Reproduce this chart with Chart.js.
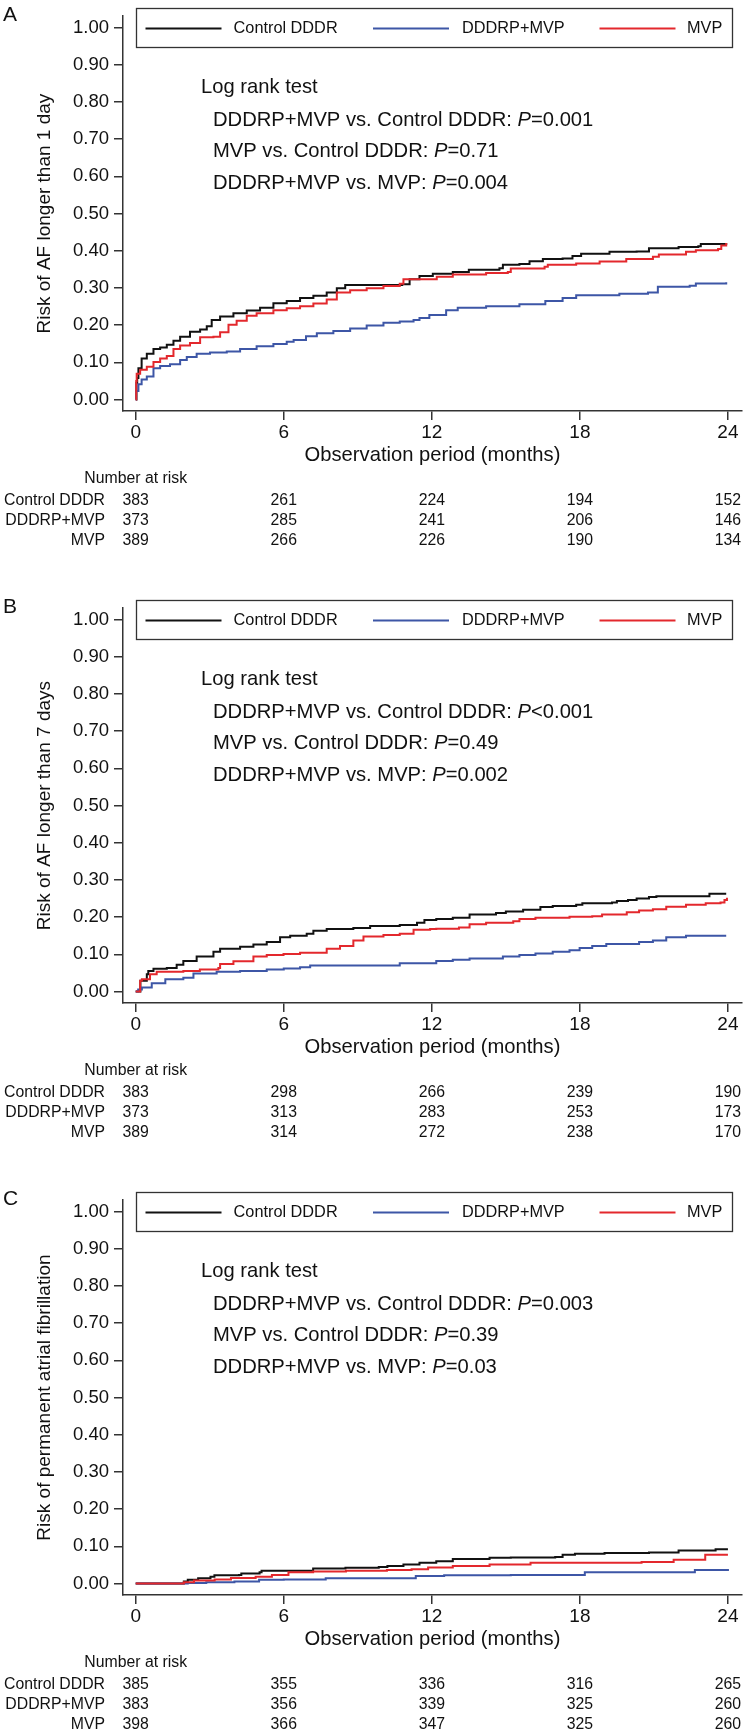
<!DOCTYPE html>
<html>
<head>
<meta charset="utf-8">
<script src="https://cdn.jsdelivr.net/npm/chart.js@4.4.1/dist/chart.umd.min.js"></script>
<style>
html,body{margin:0;padding:0;background:#fff;overflow:hidden;}
body{width:743px;height:1731px;}
.panel{position:relative;width:743px;height:592px;overflow:hidden;}
.panel.last{height:547px;}
canvas{display:block;}
</style>
</head>
<body>
<div class="panel"><canvas id="cA" width="743" height="592"></canvas></div>
<div class="panel"><canvas id="cB" width="743" height="592"></canvas></div>
<div class="panel last"><canvas id="cC" width="743" height="592"></canvas></div>
<script>
// ---------------- DATA ----------------
const groups = ['Control DDDR', 'DDDRP+MVP', 'MVP'];
const panelLetters = ['A', 'B', 'C'];
const xTicks = [0, 6, 12, 18, 24];
const yTicks = [0, 0.1, 0.2, 0.3, 0.4, 0.5, 0.6, 0.7, 0.8, 0.9, 1.0];
const xTitle = 'Observation period (months)';
const yTitles = ['Risk of AF longer than 1 day', 'Risk of AF longer than 7 days', 'Risk of permanent atrial fibrillation'];
const testTitle = 'Log rank test';
const comparisons = ['DDDRP+MVP vs. Control DDDR', 'MVP vs. Control DDDR', 'DDDRP+MVP vs. MVP'];
const pA = ['=0.001', '=0.71', '=0.004'];
const pB = ['<0.001', '=0.49', '=0.002'];
const pC = ['=0.003', '=0.39', '=0.03'];
const riskTitle = 'Number at risk';
const riskA_control = [383, 261, 224, 194, 152];
const riskA_dddrp   = [373, 285, 241, 206, 146];
const riskA_mvp     = [389, 266, 226, 190, 134];
const riskB_control = [383, 298, 266, 239, 190];
const riskB_dddrp   = [373, 313, 283, 253, 173];
const riskB_mvp     = [389, 314, 272, 238, 170];
const riskC_control = [385, 355, 336, 316, 265];
const riskC_dddrp   = [383, 356, 339, 325, 260];
const riskC_mvp     = [398, 366, 347, 325, 260];

// cumulative risk curves: [month, risk]
const A_control = [[0,0],[0.03,0.045],[0.06,0.058],[0.11,0.084],[0.24,0.110],[0.45,0.123],[0.72,0.136],[0.99,0.140],[1.26,0.147],[1.53,0.158],[1.80,0.169],[2.20,0.182],[2.61,0.188],[2.88,0.197],[3.08,0.214],[3.42,0.223],[3.96,0.232],[4.50,0.239],[5.04,0.247],[5.58,0.259],[6.12,0.265],[6.66,0.273],[7.20,0.279],[7.74,0.288],[8.15,0.299],[8.49,0.308],[10.8,0.310],[11.1,0.323],[11.5,0.332],[12.04,0.338],[12.85,0.343],[13.5,0.349],[14.74,0.353],[14.88,0.362],[15.55,0.364],[15.96,0.372],[16.5,0.378],[17.3,0.379],[17.7,0.386],[18.05,0.392],[19.2,0.397],[20.3,0.398],[20.8,0.407],[22.0,0.410],[22.8,0.412],[22.9,0.418],[23.93,0.421]];
const A_dddrp = [[0,0],[0.02,0.023],[0.11,0.041],[0.24,0.054],[0.45,0.062],[0.72,0.084],[0.99,0.090],[1.39,0.095],[1.80,0.106],[2.07,0.114],[2.47,0.123],[3.01,0.126],[3.69,0.129],[4.23,0.136],[4.90,0.143],[5.58,0.149],[6.12,0.155],[6.4,0.160],[6.9,0.170],[7.34,0.178],[8.01,0.184],[8.69,0.191],[9.36,0.199],[10.04,0.206],[10.7,0.210],[11.26,0.214],[11.5,0.219],[11.9,0.227],[12.58,0.240],[13.05,0.247],[14.2,0.251],[15.55,0.256],[16.6,0.265],[17.3,0.273],[17.85,0.280],[19.6,0.284],[20.76,0.288],[21.16,0.303],[22.45,0.306],[22.7,0.312],[23.93,0.315]];
const A_mvp = [[0,0],[0.02,0.05],[0.04,0.069],[0.18,0.080],[0.45,0.088],[0.72,0.101],[0.99,0.110],[1.26,0.117],[1.53,0.136],[1.80,0.145],[2.20,0.152],[2.61,0.167],[3.15,0.169],[3.42,0.181],[3.76,0.201],[4.09,0.212],[4.50,0.225],[4.90,0.232],[5.58,0.240],[6.12,0.245],[6.66,0.251],[7.20,0.258],[7.74,0.269],[8.15,0.288],[8.69,0.294],[9.36,0.299],[10.04,0.305],[10.7,0.311],[10.85,0.323],[12.2,0.330],[12.85,0.336],[14.2,0.340],[15.08,0.343],[15.2,0.352],[16.57,0.357],[16.7,0.362],[17.85,0.366],[18.8,0.371],[19.88,0.378],[20.96,0.384],[21.2,0.390],[22.3,0.397],[22.7,0.401],[23.6,0.405],[23.73,0.414],[23.93,0.421]];

const B_control = [[0,0],[0.19,0.029],[0.45,0.046],[0.51,0.055],[0.72,0.061],[1.26,0.063],[1.66,0.072],[1.93,0.082],[2.47,0.094],[3.15,0.107],[3.42,0.115],[4.23,0.120],[4.77,0.126],[5.31,0.133],[5.85,0.146],[6.26,0.150],[6.93,0.155],[7.2,0.163],[7.74,0.168],[8.82,0.171],[9.5,0.176],[10.7,0.179],[11.4,0.185],[11.7,0.192],[12.18,0.195],[12.85,0.198],[13.53,0.207],[14.6,0.211],[15.0,0.215],[15.7,0.220],[16.4,0.227],[16.9,0.230],[17.85,0.233],[18.1,0.237],[19.3,0.239],[19.5,0.243],[19.95,0.246],[20.3,0.250],[20.8,0.254],[21.1,0.256],[23.0,0.256],[23.25,0.263],[23.93,0.263]];
const B_dddrp = [[0,0],[0.1,0.005],[0.25,0.011],[0.65,0.022],[1.2,0.033],[1.93,0.037],[2.34,0.048],[3.28,0.053],[4.23,0.055],[5.31,0.059],[6.0,0.062],[6.66,0.065],[7.07,0.070],[10.2,0.070],[10.7,0.076],[12.04,0.076],[12.18,0.082],[12.85,0.085],[13.53,0.089],[14.88,0.094],[15.55,0.098],[16.2,0.102],[16.9,0.107],[17.58,0.111],[17.99,0.117],[18.5,0.122],[19.07,0.128],[20.4,0.133],[20.96,0.137],[21.5,0.146],[22.3,0.150],[23.93,0.150]];
const B_mvp = [[0,0],[0.18,0.029],[0.25,0.033],[0.58,0.046],[0.85,0.053],[1.93,0.055],[2.6,0.059],[3.35,0.063],[3.42,0.074],[3.96,0.081],[4.77,0.094],[5.31,0.098],[5.99,0.101],[6.66,0.104],[7.2,0.104],[7.74,0.115],[8.28,0.122],[8.82,0.137],[9.23,0.148],[10.04,0.152],[10.7,0.155],[11.26,0.166],[11.93,0.168],[12.18,0.169],[13.1,0.172],[13.53,0.181],[14.2,0.185],[15.3,0.189],[15.55,0.195],[16.2,0.198],[17.58,0.201],[18.5,0.202],[18.9,0.207],[19.9,0.213],[20.4,0.218],[20.96,0.221],[21.5,0.228],[22.3,0.233],[23.1,0.237],[23.7,0.239],[23.86,0.246],[23.96,0.252]];

const C_control = [[0,0],[1.86,0],[1.95,0.005],[2.11,0.010],[2.53,0.014],[3.03,0.018],[3.19,0.022],[4.19,0.023],[4.28,0.027],[5.02,0.030],[5.1,0.034],[6.69,0.034],[7.19,0.040],[8.5,0.042],[9.85,0.044],[10.2,0.047],[10.85,0.051],[11.5,0.056],[12.18,0.060],[12.85,0.066],[14.34,0.069],[15.2,0.070],[17.0,0.071],[17.3,0.077],[17.8,0.080],[19.0,0.082],[20.8,0.083],[22.0,0.089],[23.5,0.092],[24.0,0.092]];
const C_dddrp = [[0,0],[2.11,0.001],[2.86,0.003],[4.0,0.005],[5.0,0.010],[6.0,0.011],[7.7,0.014],[11.18,0.014],[11.35,0.020],[12.5,0.022],[15.2,0.023],[17.3,0.023],[18.2,0.030],[22.5,0.030],[22.66,0.036],[24.0,0.039]];
const C_mvp = [[0,0],[1.95,0.003],[2.36,0.008],[3.2,0.011],[3.86,0.015],[4.86,0.018],[5.52,0.023],[6.19,0.030],[7.19,0.032],[8.52,0.034],[10.18,0.036],[11.18,0.038],[11.85,0.043],[12.85,0.047],[14.34,0.051],[16.0,0.056],[17.67,0.056],[20.5,0.058],[21.8,0.064],[23.0,0.064],[23.08,0.077],[24.0,0.077]];

// ---------------- STYLE / LAYOUT ----------------
const FONT = "'Liberation Sans', Arial, Helvetica, sans-serif";
const TEXT = '#111';
const AXIS = '#333';
const lineColors = ['#111111', '#3d56a6', '#e3282d'];
const PANEL_H = 592;
const PLOT_TOP = 3, PLOT_BOTTOM = 411, PLOT_LEFT = 123, PLOT_RIGHT = 742;

const decor = {
  id: 'kmDecor',
  afterDraw(chart, args, opts) {
    const c = chart.ctx;
    const xs = chart.scales.x;
    c.save();
    c.fillStyle = TEXT;
    c.textBaseline = 'middle';
    // panel letter
    c.textAlign = 'left';
    c.font = `21px ${FONT}`;
    c.fillText(opts.letter, 3, 15);
    // legend box
    c.strokeStyle = AXIS;
    c.lineWidth = 1.3;
    c.strokeRect(136.5, 8.5, 596, 39);
    const items = [{lx: 145.5, tx: 233.6}, {lx: 373, tx: 462}, {lx: 599.5, tx: 687}];
    chart.data.datasets.forEach((ds, i) => {
      c.strokeStyle = ds.borderColor;
      c.lineWidth = 2;
      c.beginPath();
      c.moveTo(items[i].lx, 28.5);
      c.lineTo(items[i].lx + 76, 28.5);
      c.stroke();
      c.fillStyle = TEXT;
      c.font = `16.3px ${FONT}`;
      c.fillText(ds.label, items[i].tx, 28.5);
    });
    // log rank test text
    const normal = `20.2px ${FONT}`;
    const italic = `italic 20.2px ${FONT}`;
    c.font = normal;
    c.fillText(testTitle, 201, 87);
    const ys = [120, 151, 183];
    comparisons.forEach((cmp, i) => {
      let x = 213;
      const s1 = cmp + ': ';
      c.font = normal; c.fillText(s1, x, ys[i]); x += c.measureText(s1).width;
      c.font = italic; c.fillText('P', x, ys[i]); x += c.measureText('P').width;
      c.font = normal; c.fillText(opts.pvals[i], x, ys[i]);
    });
    // number at risk table
    c.font = `15.8px ${FONT}`;
    c.textAlign = 'center';
    c.fillText(riskTitle, xs.getPixelForValue(xTicks[0]), 479);
    groups.forEach((g, i) => {
      const y = 501 + 20 * i;
      c.textAlign = 'right';
      c.fillText(g, 105, y);
      c.textAlign = 'center';
      opts.risks[i].forEach((n, j) => c.fillText(String(n), xs.getPixelForValue(xTicks[j]), y));
    });
    c.restore();
  }
};

function makePanel(id, letter, yTitle, curves, pvals, risks) {
  const datasets = groups.map((g, i) => ({
    label: g,
    data: curves[i].map(([x, y]) => ({x, y})),
    borderColor: lineColors[i],
    backgroundColor: lineColors[i],
    borderWidth: 2,
    stepped: true,
    pointRadius: 0,
    fill: false,
    order: 2 - i
  }));
  new Chart(document.getElementById(id), {
    type: 'line',
    data: {datasets},
    options: {
      responsive: false,
      animation: false,
      devicePixelRatio: 1,
      layout: {padding: {top: PLOT_TOP, right: 743 - PLOT_RIGHT, left: 0, bottom: 0}},
      plugins: {
        legend: {display: false},
        tooltip: {enabled: false},
        kmDecor: {letter, pvals, risks}
      },
      scales: {
        x: {
          type: 'linear',
          min: -0.515, max: 24.57,
          afterBuildTicks: s => { s.ticks = xTicks.map(v => ({value: v})); },
          afterFit: s => { s.height = PANEL_H - PLOT_BOTTOM; },
          grid: {drawOnChartArea: false, drawTicks: true, tickLength: 9, color: AXIS, lineWidth: 1.5},
          border: {display: true, color: AXIS, width: 1.5},
          ticks: {font: {family: FONT, size: 19}, color: TEXT, padding: 1.5, maxRotation: 0, autoSkip: false, callback: v => String(v)},
          title: {display: true, text: xTitle, font: {family: FONT, size: 20.2}, color: TEXT, padding: {top: 0, bottom: 124.9}}
        },
        y: {
          type: 'linear',
          min: -0.031, max: 1.031,
          afterBuildTicks: s => { s.ticks = yTicks.map(v => ({value: v})); },
          afterFit: s => { s.width = PLOT_LEFT; },
          grid: {drawOnChartArea: false, drawTicks: true, tickLength: 9, color: AXIS, lineWidth: 1.5},
          border: {display: true, color: AXIS, width: 1.5},
          ticks: {font: {family: FONT, size: 18.5}, color: TEXT, padding: 5, autoSkip: false, callback: v => Number(v).toFixed(2)},
          title: {display: true, text: yTitle, font: {family: FONT, size: 19}, color: TEXT, padding: {top: 33.6, bottom: 0}}
        }
      }
    },
    plugins: [decor]
  });
}

makePanel('cA', panelLetters[0], yTitles[0], [A_control, A_dddrp, A_mvp], pA, [riskA_control, riskA_dddrp, riskA_mvp]);
makePanel('cB', panelLetters[1], yTitles[1], [B_control, B_dddrp, B_mvp], pB, [riskB_control, riskB_dddrp, riskB_mvp]);
makePanel('cC', panelLetters[2], yTitles[2], [C_control, C_dddrp, C_mvp], pC, [riskC_control, riskC_dddrp, riskC_mvp]);
</script>
</body>
</html>
